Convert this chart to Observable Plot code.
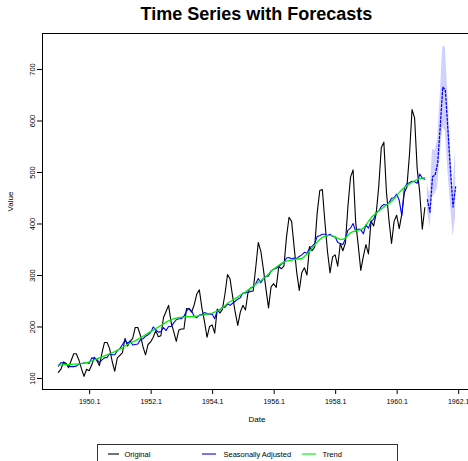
<!DOCTYPE html>
<html>
<head>
<meta charset="utf-8">
<script src="https://cdn.jsdelivr.net/npm/d3@7"></script>
<script src="https://cdn.jsdelivr.net/npm/@observablehq/plot@0.6"></script>
<style>
  html, body { margin: 0; padding: 0; background: #fff; }
  #wrap { position: relative; width: 468px; height: 461px; overflow: hidden; background: #fff;
          font-family: "Liberation Sans", Arial, Helvetica, sans-serif; }
  #title { position: absolute; left: 42px; width: 429px; top: 4px; text-align: center;
           font-weight: bold; font-size: 18px; line-height: 20px; color: #000; }
  #chart { position: absolute; left: 0; top: 0; width: 471px; height: 461px; }
  #chart svg { max-width: none !important; }
  #legend { position: absolute; left: 0; top: 440px; width: 468px; height: 21px; }
</style>
</head>
<body>
<div id="wrap">
  <div id="chart"></div>
  <div id="title">Time Series with Forecasts</div>
  <div id="legend"></div>
</div>
<script>
// ---- data (AirPassengers-style monthly series, Jan 1949 .. Dec 1960) ----
const startYear = 1949;
const original = [
  112,118,132,129,121,135,148,148,136,119,104,118,
  115,126,141,135,125,149,170,170,158,133,114,140,
  145,150,178,163,172,178,199,199,184,162,146,166,
  171,180,193,181,183,218,230,242,209,191,172,194,
  196,196,236,235,229,243,264,272,237,211,180,201,
  204,188,235,227,234,264,302,293,259,229,203,229,
  242,233,267,269,270,315,364,347,312,274,237,278,
  284,277,317,313,318,374,413,405,355,306,271,306,
  315,301,356,348,355,422,465,467,404,347,305,336,
  340,318,362,348,363,435,491,505,404,359,310,337,
  360,342,406,396,420,472,548,559,463,407,362,405,
  417,391,419,461,472,535,622,606,508,461,390,432
];
const seasAdj = [
  124,131,130,129,124,123,123,124,128,129,130,131,
  129,140,139,137,131,136,140,141,148,146,146,154,
  158,166,174,168,173,165,166,167,175,177,182,185,
  189,200,195,190,191,199,193,201,201,208,214,216,
  216,221,231,236,231,221,218,223,224,228,226,225,
  225,216,232,233,238,238,245,242,246,250,254,257,
  266,266,268,276,277,284,294,286,294,298,299,309,
  312,314,317,322,325,334,335,332,334,333,337,340,
  345,343,353,357,362,376,377,380,380,377,380,376,
  375,364,362,360,371,388,392,401,386,390,389,381,
  398,392,405,409,423,425,434,438,437,441,450,451,
  458,446,416,470,478,480,483,482,479,497,489,487
];
const trend = [
  126,126,126.5,127,127,127.5,128,128,128.5,129,130,131,
  132,134,136,138,140,142,144,146,148,150,152,155,
  157,160,163,166,169,171,173,176,179,182,185,188,
  191,194,197,200,203,206,209,212,214,216,217,218,
  219,219,220,220,220,220,221,222,223,224,225,226,
  227,229,231,234,237,241,246,249,252,255,258,262,
  265,268,272,275,279,283,287,290,294,298,303,308,
  312,316,320,323,326,328,329,330,331,332,332,333,
  337,342,347,353,359,365,370,374,376,378,378,377,
  375,372,370,370,373,378,383,385,387,388,389,392,
  398,405,412,417,421,425,429,433,437,440,444,449,
  455,461,466,471,475,478,481,484,486,488,489,490
];
// forecasts Jan..Dec 1961 with interval
const fcYear = 1961;
const forecast = [447,423,492,495,518,589,666,660,583,504,433,472];
const fcLower  = [425,392,452,458,470,535,588,580,502,438,375,412];
const fcUpper  = [480,455,545,542,565,650,744,744,650,545,468,545];
const xTicks = [1950.1,1952.1,1954.1,1956.1,1958.1,1960.1,1962.1];
const yTicks = [100,200,300,400,500,600,700];
const legendItems = ["Original","Seasonally Adjusted","Trend"];
const legendColors = ["#000000","#0000ff","#00ee00"];

// ---- tables ----
const hist = original.map((v, i) => ({
  t: startYear + (i + 1) / 12, orig: v, sa: seasAdj[i], tr: trend[i]
}));
const fc = forecast.map((v, i) => ({
  t: fcYear + (i + 1) / 12, f: v, lo: fcLower[i], hi: fcUpper[i]
}));

const font = '"Liberation Sans", Arial, Helvetica, sans-serif';
const chart = Plot.plot({
  width: 471, height: 461,
  marginLeft: 42, marginRight: 0, marginTop: 33, marginBottom: 72,
  style: {fontFamily: font, fontSize: "7.5px", background: "white", color: "black"},
  x: {domain: [1948.567, 1962.517]},
  y: {domain: [78.6, 769.9]},
  marks: [
    Plot.areaY(fc, {x: "t", y1: "lo", y2: "hi", fill: "#0000ff", fillOpacity: 0.18}),
    Plot.line(hist, {x: "t", y: "orig", stroke: "black", strokeWidth: 1.1}),
    Plot.line(hist, {x: "t", y: "sa", stroke: "#0000ff", strokeWidth: 1.1}),
    Plot.line(hist, {x: "t", y: "tr", stroke: "#00ee00", strokeWidth: 1.3}),
    Plot.line(fc, {x: "t", y: "f", stroke: "#0000ff", strokeWidth: 1.3, strokeDasharray: "2,2"}),
    Plot.axisX({ticks: xTicks, tickFormat: d => d.toFixed(1), tickSize: 5, tickPadding: 5, fontSize: 7, label: null}),
    Plot.axisY({ticks: yTicks, tickSize: 5, tickPadding: 3, tickRotate: -90, label: null}),
    Plot.text(["Date"], {frameAnchor: "bottom", dy: 32, text: d => d, fontSize: 8}),
    Plot.text(["Value"], {frameAnchor: "left", dx: -32, rotate: -90, text: d => d, fontSize: 8}),
    Plot.frame({stroke: "black", strokeWidth: 1})
  ]
});
document.getElementById("chart").appendChild(chart);

// ---- legend (SVG below the plot) ----
const lsvg = d3.select("#legend").append("svg")
  .attr("width", 468).attr("height", 21)
  .style("font-family", font).style("font-size", "7.5px");
lsvg.append("rect").attr("x", 97.5).attr("y", 4.5).attr("width", 300).attr("height", 24)
  .attr("fill", "none").attr("stroke", "#333").attr("stroke-width", 1);
const swX = [108, 202, 302], swW = [11, 14, 14], txX = [124.5, 223.5, 322.5];
legendItems.forEach((name, i) => {
  lsvg.append("line").attr("x1", swX[i]).attr("x2", swX[i] + swW[i])
    .attr("y1", 14).attr("y2", 14).attr("stroke", legendColors[i]).attr("stroke-width", 1.1);
  lsvg.append("text").attr("x", txX[i]).attr("y", 14).attr("dy", "0.35em")
    .attr("fill", "#000").text(name);
});
</script>
</body>
</html>
